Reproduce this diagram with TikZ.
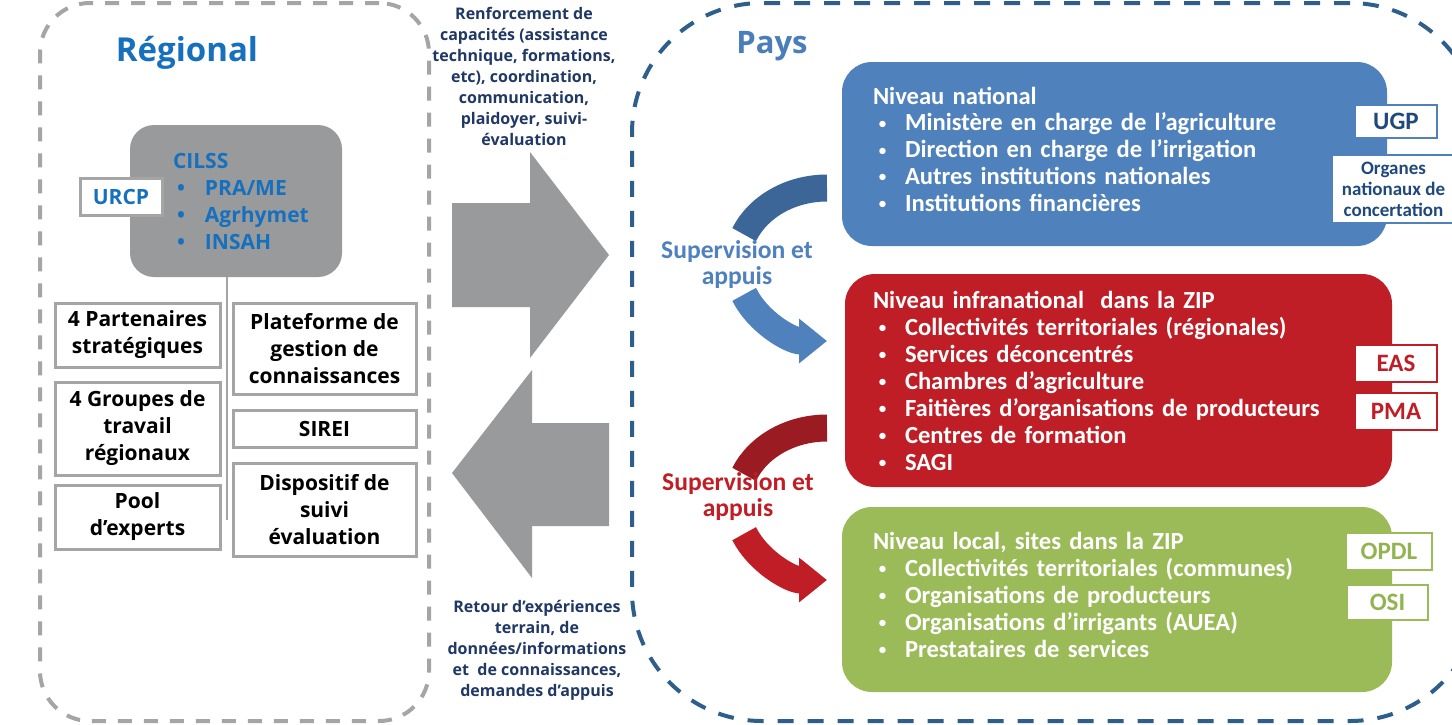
\documentclass[tikz,border=0pt]{standalone}
\usepackage{fontspec}
\setmainfont{Carlito}
\newfontfamily\osans{Open Sans}
\usetikzlibrary{arrows.meta, positioning, calc}
\definecolor{regblue}{RGB}{22,112,190}
\definecolor{paysblue}{RGB}{74,126,187}
\definecolor{navy}{RGB}{31,56,100}
\definecolor{natblue}{RGB}{79,129,189}
\definecolor{natdark}{RGB}{60,102,152}
\definecolor{tagblue}{RGB}{31,73,125}
\definecolor{zipred}{RGB}{192,30,38}
\definecolor{zipdark}{RGB}{155,27,35}
\definecolor{locgreen}{RGB}{155,187,89}
\definecolor{taggreen}{RGB}{146,180,80}
\definecolor{cilssgray}{RGB}{152,154,156}
\definecolor{linegray}{RGB}{165,165,165}
\definecolor{dashblue}{RGB}{46,95,140}
\newcommand{\puce}{\makebox[16pt][l]{\hspace{2pt}\textbullet}}
\newcommand{\petitpuce}{\makebox[16pt][l]{\hspace{2.5pt}\raisebox{0.8pt}{\mdseries\fontsize{9}{9}\selectfont\textbullet}}}
\newcommand{\bas}[1]{\rule[-#1]{0pt}{#1}}
\tikzset{
  regframe/.style={
    rectangle, rounded corners=25pt, draw=linegray, line width=2pt,
    dash pattern=on 7pt off 6pt
  },
  paysframe/.style={
    rectangle, rounded corners=65pt, draw=dashblue, line width=2pt,
    dash pattern=on 8pt off 7pt
  },
  frame/.style={
    rectangle, draw=linegray, line width=1.5pt, fill=white, align=center,
    inner sep=1pt, font=\osans\bfseries\fontsize{10.5}{13.5}\selectfont
  },
  niveau/.style={
    rectangle, rounded corners=15pt, text=white, align=left,
    inner xsep=15.5pt, inner ysep=0pt, font=\bfseries\fontsize{12.3}{13.5}\selectfont
  },
  tag/.style={
    rectangle, fill=white, line width=1.2pt, inner sep=0pt,
    font=\bfseries\fontsize{12.5}{14}\selectfont
  },
  midtext/.style={
    align=center, text=navy, font=\osans\bfseries\fontsize{8}{10.5}\selectfont
  },
  suptext/.style={
    align=center, font=\bfseries\fontsize{12.8}{13}\selectfont
  },
  titre/.style={
    font=\osans\bfseries\fontsize{15.5}{18}\selectfont
  },
  supband/.style={line width=13.5pt},
  suparrow/.style={line width=13.5pt, -{Triangle[width=21.5pt, length=14pt]}}
}
\begin{document}
\begin{tikzpicture}[x=0.5pt, y=-0.5pt]
\fill[white] (0,0) rectangle (1452,724);
\useasboundingbox (0,0) rectangle (1452,724);

% les deux cadres
\node[regframe, minimum width=194.5pt, minimum height=359pt] (regional) at (234.5,362) {};
\node[paysframe, minimum width=424pt, minimum height=359pt] (pays) at (1056,362) {};
\node[titre, text=regblue, font=\osans\bfseries\fontsize{16.5}{18}\selectfont] (regtitle) at (187,53) {Régional};
\node[titre, text=paysblue] (paystitle) at (772,46) {Pays};

% niveau regional
\node[rectangle, rounded corners=12pt, fill=cilssgray, minimum width=106pt, minimum height=76pt,
  text width=63pt, inner xsep=21.5pt, align=left, text=regblue,
  font=\osans\bfseries\fontsize{10.5}{13.5}\selectfont] (cilss) at (236,201)
  {CILSS\\ \puce PRA/ME\\ \puce Agrhymet\\ \puce INSAH};
\node[frame, text=regblue, minimum width=41pt, minimum height=18.5pt] (urcp) at (121,196.5) {URCP};
\coordinate (trunk) at (227,520);
\draw[linegray, line width=1pt] (cilss.south -| trunk) -- (trunk);

\node[frame, minimum width=82.5pt, minimum height=32pt] (partenaires) at (137.5,335) {4 Partenaires\\stratégiques};
\node[frame, minimum width=82.5pt, minimum height=46.5pt, below=6pt of partenaires] (groupes) {4 Groupes de\\travail\\régionaux};
\node[frame, minimum width=82.5pt, minimum height=32pt, below=3.5pt of groupes] (pool) {Pool\\d’experts};
\node[frame, minimum width=91.5pt, minimum height=45.5pt] (plateforme) at (324.5,348.5) {Plateforme de\\gestion de\\connaissances};
\node[frame, minimum width=91.5pt, minimum height=18.5pt, below=6.5pt of plateforme] (sirei) {SIREI};
\node[frame, minimum width=91.5pt, minimum height=46.5pt, below=6.5pt of sirei] (dispositif) {Dispositif de\\suivi\\évaluation};

% echanges
\node[midtext] (renfo) at (524,76) {Renforcement de\\capacités (assistance\\technique, formations,\\etc), coordination,\\communication,\\plaidoyer, suivi-\\évaluation};
\fill[cilssgray] (452,203) -- (530,203) -- (530,152) -- (609,255) -- (530,358) -- (530,307) -- (452,307) -- cycle;
\fill[cilssgray] (609,423) -- (532,423) -- (532,370) -- (452,473) -- (532,578) -- (532,526) -- (609,526) -- cycle;
\node[midtext] (retour) at (537,650) {Retour d’expériences\\terrain, de\\données/informations\\et \ de connaissances,\\demandes d’appuis};

% niveaux pays
\node[niveau, fill=natblue, minimum width=272.5pt, minimum height=92pt, text width=241.5pt,
  font=\bfseries\fontsize{12.3}{13.35}\selectfont] (national) at (1114.5,154)
  {Niveau national\\ \petitpuce Ministère en charge de l’agriculture\\ \petitpuce Direction en charge de l’irrigation\\
   \petitpuce Autres institutions nationales\\ \petitpuce Institutions financières\bas{5pt}};
\node[niveau, fill=zipred, minimum width=273.5pt, minimum height=106.5pt, inner xsep=14pt, text width=245.5pt] (infra) at (1118.5,380.5)
  {Niveau infranational \ dans la ZIP\\ \petitpuce Collectivités territoriales (régionales)\\ \petitpuce Services déconcentrés\\
   \petitpuce Chambres d’agriculture\\ \petitpuce Faitières d’organisations de producteurs\\ \petitpuce Centres de formation\\ \petitpuce SAGI};
\node[niveau, fill=locgreen, minimum width=275pt, minimum height=92.5pt, text width=244pt] (local) at (1117,599.5)
  {Niveau local, sites dans la ZIP\\ \petitpuce Collectivités territoriales (communes)\\ \petitpuce Organisations de producteurs\\
   \petitpuce Organisations d’irrigants (AUEA)\\ \petitpuce Prestataires de services\bas{5pt}};

\node[tag, draw=natblue, text=tagblue, minimum width=41pt, minimum height=16.5pt] (ugp) at (1396,121.5) {UGP};
\node[tag, draw=natblue, text=tagblue, minimum width=61.5pt, minimum height=34pt, align=center,
  font=\bfseries\fontsize{9.5}{10.5}\selectfont] (organes) at (1393.5,189) {Organes\\nationaux de\\concertation};
\node[tag, draw=zipred, text=zipred, minimum width=41pt, minimum height=18.5pt] (eas) at (1396,363.5) {EAS};
\node[tag, draw=zipred, text=zipred, minimum width=41pt, minimum height=18.5pt] (pma) at (1396,411.5) {PMA};
\node[tag, draw=locgreen, text=taggreen, minimum width=43pt, minimum height=18.5pt] (opdl) at (1389,551.5) {OPDL};
\node[tag, draw=locgreen, text=taggreen, minimum width=40.5pt, minimum height=17.5pt] (osi) at (1387.5,602.5) {OSI};

% supervision et appuis
\coordinate (cb) at (827,264.5);
\coordinate (cr) at (827,504);
\draw[supband, natdark] ($(cb)+(-90:90 and 76.5)$) arc[start angle=-90, end angle=-157, x radius=90, y radius=76.5];
\draw[suparrow, natblue] ($(cb)+(157:90 and 76.5)$) arc[start angle=157, end angle=90, x radius=90, y radius=76.5];
\node[suptext, text=natblue] (supnat) at (737,265) {Supervision et\\appuis};
\draw[supband, zipdark] ($(cr)+(-90:90 and 76)$) arc[start angle=-90, end angle=-157, x radius=90, y radius=76];
\draw[suparrow, zipred] ($(cr)+(157:90 and 76)$) arc[start angle=157, end angle=90, x radius=90, y radius=76];
\node[suptext, text=zipred] (supinfra) at (738,497) {Supervision et\\appuis};
\end{tikzpicture}
\end{document}
